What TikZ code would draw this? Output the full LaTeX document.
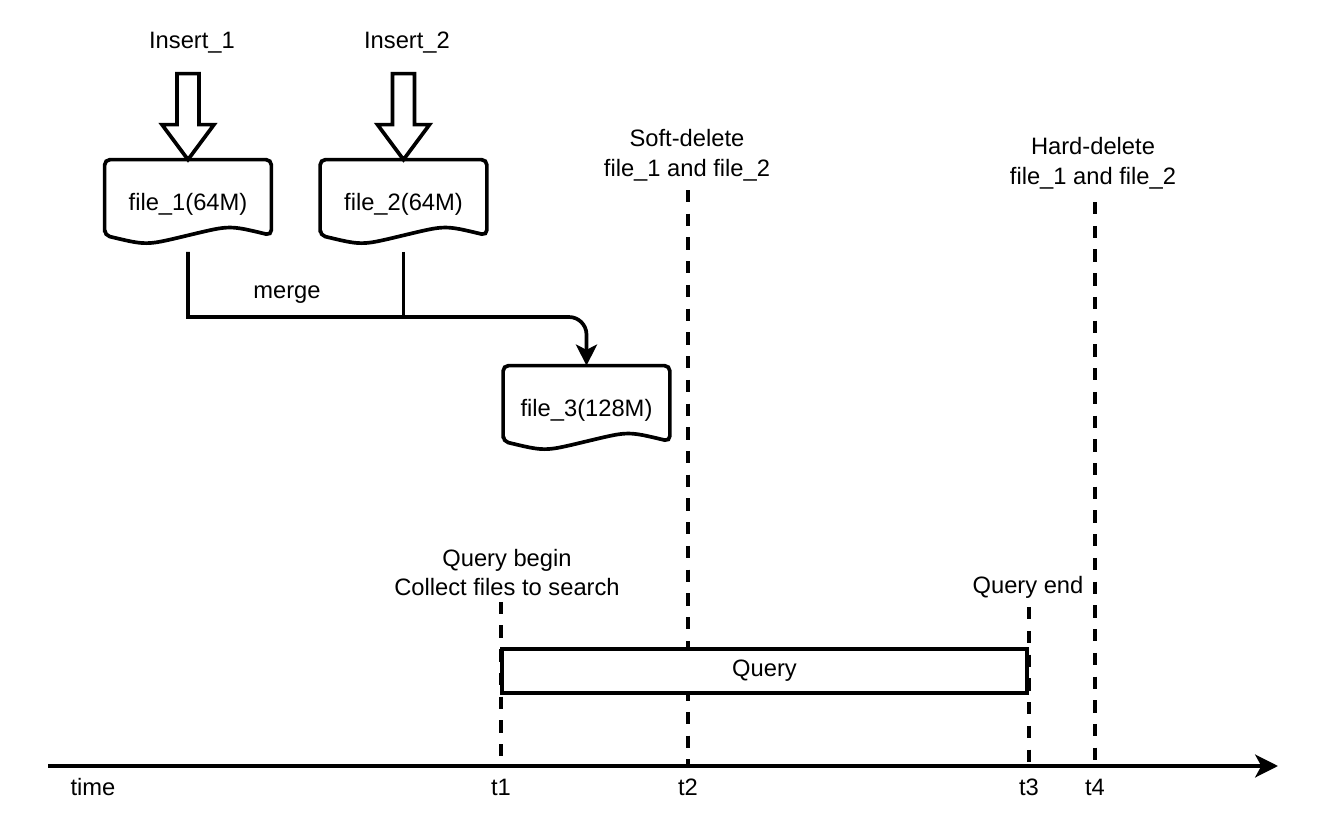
\documentclass[tikz,border=0pt]{standalone}
\usepackage{fontspec}
\setmainfont{Liberation Sans}
\usetikzlibrary{arrows.meta,positioning,calc}

\begin{document}
\begin{tikzpicture}[
    txt/.style={font=\fontsize{13.5}{17}\selectfont, align=center, inner sep=3pt},
    doc/.style={txt, minimum width=3.32cm, minimum height=1.76cm},
    docline/.style={line width=2.1pt, rounded corners=3pt},
    hollow/.style={draw, line width=2.1pt, fill=white, line join=miter},
    link/.style={line width=2.1pt, -{Stealth[length=12pt, width=12pt, inset=3pt]}},
    timeline/.style={line width=2.1pt, -{Stealth[length=13pt, width=13pt, inset=3.5pt]}},
    marker/.style={line width=2.3pt, dash pattern=on 7pt off 6.5pt},
    qbox/.style={txt, draw, line width=2.1pt, fill=white, minimum width=10.5cm, minimum height=0.88cm}
]
    \useasboundingbox (0,0) rectangle (26.4,-16.4);

    % Inserts and files
    \node[txt] (ins1) at (3.84,-0.86) {Insert\_1};
    \node[txt] (ins2) at (8.14,-0.86) {Insert\_2};
    \node[doc] (f1) at (3.76,-4.08) {file\_1(64M)};
    \node[doc] (f2) at (8.07,-4.08) {file\_2(64M)};
    \node[doc] (f3) at (11.73,-8.2) {file\_3(128M)};

    \foreach \f in {f1,f2,f3}
        \draw[docline] ($(\f.south west)+(0,0.26)$) -- (\f.north west) -- (\f.north east) -- ($(\f.south east)+(0,0.26)$)
            .. controls ($(\f.south east)+(-0.83,0.46)$) .. ($(\f.south)+(0,0.26)$)
            .. controls ($(\f.south west)+(0.83,0.06)$) .. cycle;

    \foreach \f in {f1,f2}
        \draw[hollow, shift={(\f.north)}] (0,0) -- (-0.52,0.7) -- (-0.22,0.7) -- (-0.22,1.72) -- (0.22,1.72) -- (0.22,0.7) -- (0.52,0.7) -- cycle;

    % Merge
    \coordinate (j) at (8.04,-6.34);
    \draw[link, shorten <=2pt] (f1.south) |- (j) [rounded corners=10pt] -| (f3.north);
    \draw[line width=2.1pt, shorten <=2pt] (f2.south) -- (f2.south |- j);
    \node[txt] (merge) at (5.74,-5.9) {merge};

    % Timeline
    \coordinate (ax0) at (0.96,-15.32);
    \coordinate (ax1) at (25.56,-15.32);
    \draw[timeline] (ax0) -- (ax1);
    \node[txt] (time) at (1.86,-15.74) {time};
    \node[txt] (t1) at (10.02,-15.74) {t1};
    \node[txt] (t2) at (13.76,-15.74) {t2};
    \node[txt] (t3) at (20.58,-15.74) {t3};
    \node[txt] (t4) at (21.9,-15.74) {t4};

    % Events
    \node[txt] (soft) at (13.74,-3.1) {Soft-delete\\file\_1 and file\_2};
    \node[txt] (hard) at (21.86,-3.27) {Hard-delete\\file\_1 and file\_2};
    \node[txt] (qbeg) at (10.14,-11.45) {Query begin\\Collect files to search};
    \node[txt] (qend) at (20.56,-11.74) {Query end};

    \draw[marker] (t1 |- qbeg.south) -- (t1 |- ax0);
    \draw[marker, shorten <=2pt] (t2 |- soft.south) -- (t2 |- ax0);
    \draw[marker, shorten <=2pt] (t3 |- qend.south) -- (t3 |- ax0);
    \draw[marker, shorten <=4pt] (t4 |- hard.south) -- (t4 |- ax0);

    % Query
    \node[qbox] (query) at (15.29,-13.42) {Query};

\end{tikzpicture}
\end{document}
